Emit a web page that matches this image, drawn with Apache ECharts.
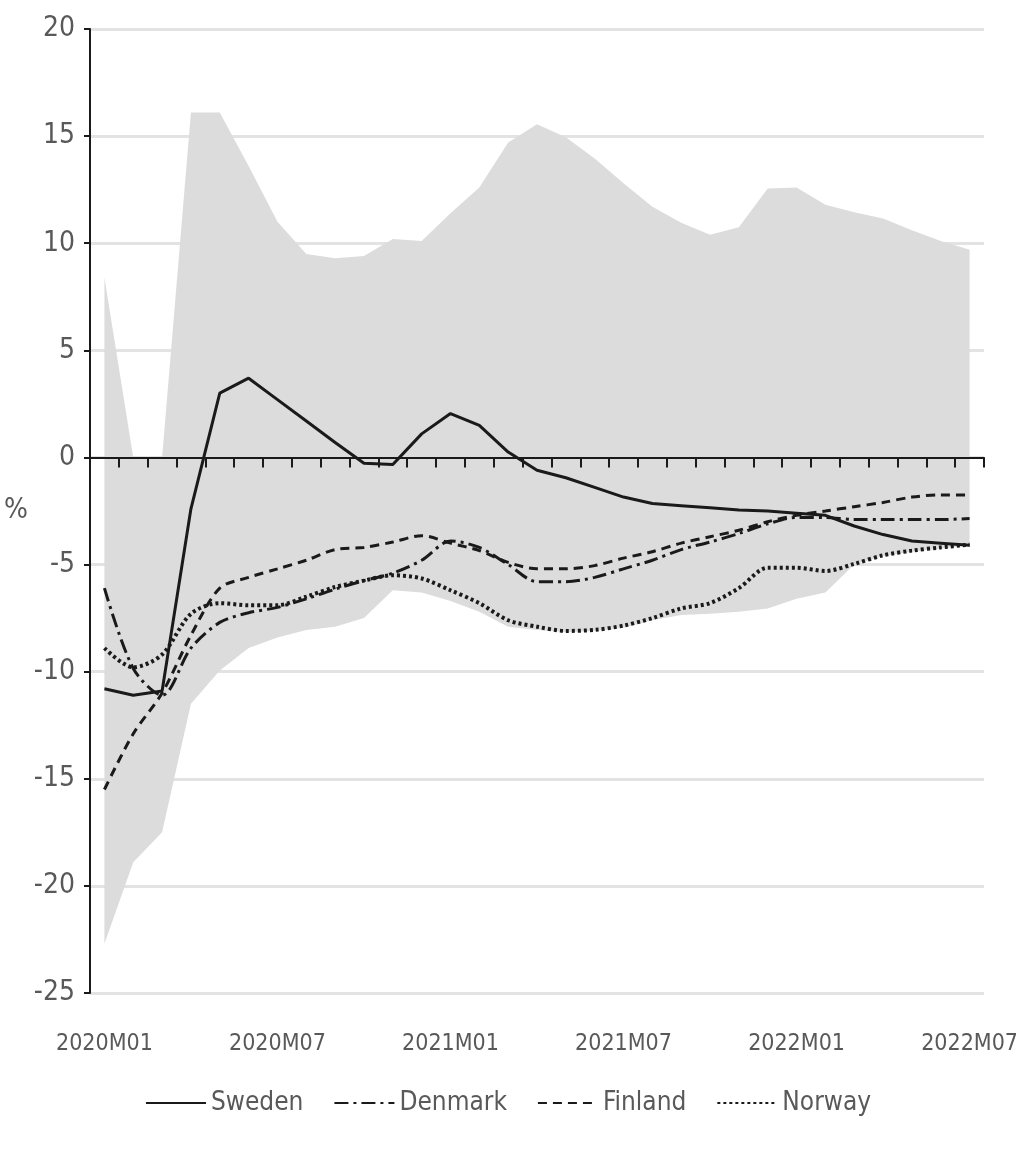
<!DOCTYPE html>
<html>
<head>
<meta charset="utf-8">
<script src="https://cdn.jsdelivr.net/npm/echarts@6/dist/echarts.min.js"></script>
<style>
  html, body { margin: 0; padding: 0; background: #fff; }
  #chart { width: 1016px; height: 1153px; }
</style>
</head>
<body>
<div id="chart"></div>
<script>
// months 2020M01 .. 2022M07
var months = ['2020M01','2020M02','2020M03','2020M04','2020M05','2020M06','2020M07','2020M08','2020M09','2020M10','2020M11','2020M12',
  '2021M01','2021M02','2021M03','2021M04','2021M05','2021M06','2021M07','2021M08','2021M09','2021M10','2021M11','2021M12',
  '2022M01','2022M02','2022M03','2022M04','2022M05','2022M06','2022M07'];

var sweden  = [-10.8,-11.1,-10.9,-2.4,3.0,3.7,2.7,1.7,0.7,-0.27,-0.33,1.1,2.05,1.5,0.25,-0.6,-0.95,-1.4,-1.85,-2.15,-2.25,-2.35,-2.45,-2.5,-2.6,-2.7,-3.2,-3.6,-3.9,-4.0,-4.1];
var denmark = [-6.1,-9.85,-11.1,-8.9,-7.7,-7.25,-7.0,-6.6,-6.15,-5.75,-5.4,-4.8,-3.9,-4.2,-5.0,-5.8,-5.8,-5.6,-5.2,-4.8,-4.3,-3.95,-3.55,-3.1,-2.8,-2.8,-2.9,-2.9,-2.9,-2.9,-2.85];
var finland = [-15.5,-12.9,-11.0,-8.3,-6.1,-5.6,-5.2,-4.8,-4.3,-4.2,-3.95,-3.65,-4.0,-4.35,-4.9,-5.2,-5.2,-5.05,-4.7,-4.4,-4.0,-3.7,-3.4,-3.0,-2.7,-2.5,-2.3,-2.1,-1.85,-1.75,-1.75];
var norway  = [-8.9,-9.8,-9.2,-7.3,-6.8,-6.9,-6.9,-6.5,-6.05,-5.75,-5.5,-5.65,-6.2,-6.8,-7.6,-7.9,-8.1,-8.05,-7.85,-7.5,-7.05,-6.8,-6.1,-5.15,-5.15,-5.3,-4.97,-4.57,-4.35,-4.2,-4.07];

// range band (max / min)
var bandUpper = [8.4,0,0,16.1,16.1,13.6,11.0,9.5,9.3,9.4,10.2,10.1,11.4,12.6,14.7,15.55,14.95,13.95,12.8,11.7,10.95,10.4,10.75,12.55,12.6,11.8,11.45,11.15,10.6,10.1,9.7];
var bandLower = [-22.7,-18.9,-17.5,-11.5,-9.95,-8.9,-8.4,-8.05,-7.9,-7.5,-6.2,-6.3,-6.7,-7.2,-7.9,-8.05,-8.15,-8.1,-7.95,-7.6,-7.35,-7.3,-7.2,-7.05,-6.6,-6.3,-5.0,-4.6,-4.4,-4.25,-4.1];

var yTicks = { min: -25, max: 20, interval: 5 };

var bandSpan = bandUpper.map(function (v, i) { return +(v - bandLower[i]).toFixed(2); });

var textFont = "'Liberation Sans Narrow', 'DejaVu Sans Condensed', sans-serif";
var textColor = '#595959';
var ink = '#1a1a1a';

var myChart = echarts.init(document.getElementById('chart'));

function lineSeries(name, data, type, width, smooth) {
  return {
    name: name,
    type: 'line',
    data: data,
    symbol: 'none',
    smooth: smooth,
    z: 5,
    lineStyle: { color: ink, width: width, type: type, cap: 'butt' },
    itemStyle: { color: ink }
  };
}

var option = {
  animation: false,
  backgroundColor: '#fff',
  grid: { left: 90, right: 32, top: 29, bottom: 160, outerBoundsMode: 'none' },
  legend: {
    bottom: 32,
    left: 'center',
    itemWidth: 60,
    itemHeight: 14,
    itemGap: 30,
    data: ['Sweden', 'Denmark', 'Finland', 'Norway'],
    itemStyle: { opacity: 0 },
    textStyle: { color: textColor, fontSize: 26, fontFamily: textFont }
  },
  xAxis: [{
    type: 'category',
    data: months,
    boundaryGap: true,
    position: 'bottom',
    axisLine: { show: false, onZero: false },
    axisTick: { show: false },
    axisLabel: { interval: 5, color: textColor, fontSize: 23, fontFamily: textFont, margin: 40 },
    splitLine: { show: false }
  }, {
    type: 'category',
    data: months,
    boundaryGap: true,
    position: 'top',
    z: 6,
    axisLine: { show: true, onZero: true, lineStyle: { color: ink, width: 2 } },
    axisTick: { show: true, inside: true, interval: 0, length: 10, lineStyle: { color: ink, width: 2 } },
    axisLabel: { show: false },
    splitLine: { show: false }
  }],
  yAxis: {
    type: 'value',
    min: yTicks.min,
    max: yTicks.max,
    interval: yTicks.interval,
    name: '%',
    nameLocation: 'middle',
    nameRotate: 0,
    nameGap: 62,
    nameTextStyle: { color: textColor, fontSize: 28, fontFamily: textFont },
    axisLine: { show: true, lineStyle: { color: ink, width: 2 } },
    axisTick: { show: true, length: 6, lineStyle: { color: ink, width: 2 } },
    axisLabel: { color: textColor, fontSize: 28, fontFamily: textFont, margin: 15 },
    splitLine: { show: true, lineStyle: { color: '#e3e3e3', width: 3 } }
  },
  series: [{
    name: 'bandLower',
    type: 'line',
    data: bandLower,
    stack: 'band',
    stackStrategy: 'all',
    symbol: 'none',
    silent: true,
    z: 1,
    lineStyle: { opacity: 0 }
  }, {
    name: 'bandRange',
    type: 'line',
    data: bandSpan,
    stack: 'band',
    stackStrategy: 'all',
    symbol: 'none',
    silent: true,
    z: 1,
    lineStyle: { opacity: 0 },
    areaStyle: { color: '#dcdcdc', opacity: 1 }
  },
    lineSeries('Sweden', sweden, 'solid', 3, false),
    lineSeries('Denmark', denmark, [14, 5, 3, 5], 3, 0.3),
    lineSeries('Finland', finland, [9, 6], 3, 0.3),
    lineSeries('Norway', norway, [3, 3], 4, 0.3)
  ]
};

myChart.setOption(option);
</script>
</body>
</html>
